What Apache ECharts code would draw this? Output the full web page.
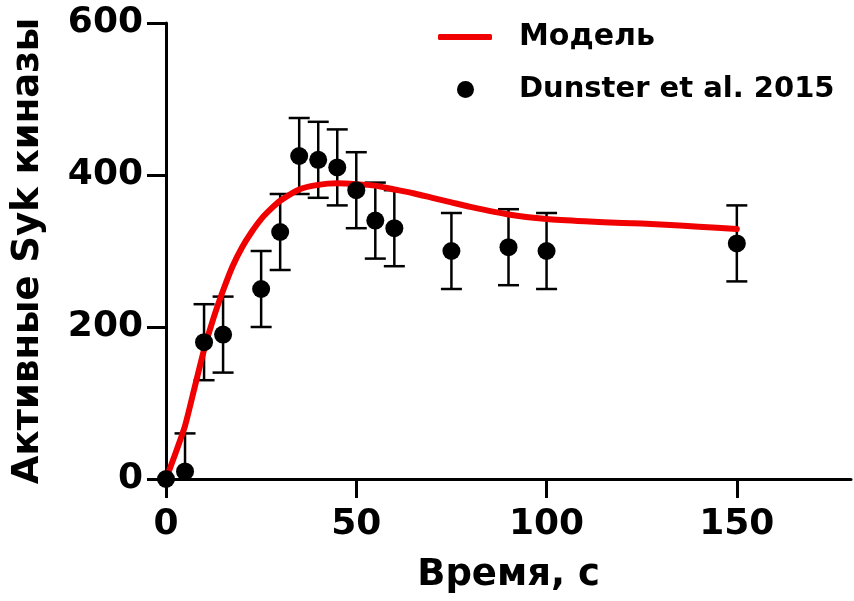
<!DOCTYPE html>
<html>
<head>
<meta charset="utf-8">
<script src="https://cdn.jsdelivr.net/npm/echarts@6/dist/echarts.min.js"></script>
<style>html,body{margin:0;padding:0;background:#fff;}#c{width:854px;height:601px;}</style>
</head>
<body>
<div id="c"></div>
<script>
// Model curve
const modelX = [0, 2.5, 5, 7.5, 10, 12.5, 15, 17.5, 20, 22.5, 25, 27.5, 30, 35, 40, 45, 50, 55, 60, 65, 70, 75, 80, 90, 100, 110, 120, 130, 140, 150];
const modelY = [0, 34, 70, 120, 170, 212, 248, 280, 305, 325, 342, 355, 366, 381, 387, 389, 388, 386, 381, 376, 370, 364, 358, 348, 342, 339, 337, 335, 332, 329];
// Experimental data (Dunster et al. 2015)
const dataX = [0, 5, 10, 15, 25, 30, 35, 40, 45, 50, 55, 60, 75, 90, 100, 150];
const dataY = [0, 10, 180, 190, 250, 325, 425, 420, 410, 380, 340, 330, 300, 305, 300, 310];
const dataErr = [0, 50, 50, 50, 50, 50, 50, 50, 50, 50, 50, 50, 50, 50, 50, 50];
const xTicks = [0, 50, 100, 150];
const yTicks = [0, 200, 400, 600];
const seriesNames = ['Модель', 'Dunster et al. 2015'];
const xTitle = 'Время, с';
const yTitle = 'Активные Syk киназы';

const FONT = 'DejaVu Sans';
const chart = echarts.init(document.getElementById('c'), null, {renderer: 'canvas'});

const modelData = modelX.map((x, i) => [x, modelY[i]]);
const pointData = dataX.map((x, i) => [x, dataY[i]]);
const errData = dataX.map((x, i) => [x, dataY[i] - dataErr[i], dataY[i] + dataErr[i]]).filter((d, i) => dataErr[i] > 0);

const axisCommon = {
  axisLine: {show: true, lineStyle: {color: '#000', width: 3}},
  axisTick: {show: true, inside: false, length: 19, lineStyle: {color: '#000', width: 3}},
  splitLine: {show: false},
  nameLocation: 'middle'
};

chart.setOption({
  backgroundColor: '#fff',
  animation: false,
  grid: {left: 166, right: 3, top: 23, bottom: 122, containLabel: false},
  legend: [
    {
      data: [{name: seriesNames[0], icon: 'roundRect'}],
      left: 438, top: 22, padding: 0,
      itemWidth: 54, itemHeight: 6,
      textStyle: {fontFamily: FONT, fontWeight: 'bold', fontSize: 30, color: '#000', padding: [0, 0, 0, 22]}
    },
    {
      data: [{name: seriesNames[1], icon: 'circle'}],
      left: 457, top: 75, padding: 0,
      itemWidth: 17, itemHeight: 17,
      textStyle: {fontFamily: FONT, fontWeight: 'bold', fontSize: 29, color: '#000', padding: [0, 0, 0, 40]}
    }
  ],
  xAxis: Object.assign({}, axisCommon, {
    type: 'value', min: 0, max: 180, interval: 50,
    name: xTitle, nameGap: 78,
    nameTextStyle: {fontFamily: FONT, fontWeight: 'bold', fontSize: 37, color: '#000'},
    axisTick: Object.assign({}, axisCommon.axisTick, {customValues: xTicks}),
    axisLabel: {customValues: xTicks, margin: 28, fontFamily: FONT, fontWeight: 'bold', fontSize: 36, color: '#000'}
  }),
  yAxis: Object.assign({}, axisCommon, {
    type: 'value', min: 0, max: 600, interval: 200,
    name: yTitle, nameGap: 119,
    nameTextStyle: {fontFamily: FONT, fontWeight: 'bold', fontSize: 37, color: '#000'},
    axisTick: Object.assign({}, axisCommon.axisTick, {customValues: yTicks}),
    axisLabel: {customValues: yTicks, margin: 23, fontFamily: FONT, fontWeight: 'bold', fontSize: 36, color: '#000'}
  }),
  series: [
    {
      name: 'errors',
      type: 'custom',
      clip: true,
      z: 2,
      data: errData,
      renderItem: function (params, api) {
        const x = api.value(0);
        const lo = api.coord([x, api.value(1)]);
        const hi = api.coord([x, api.value(2)]);
        const hw = 10.5;
        const st = {stroke: '#000', lineWidth: 2.5};
        return {
          type: 'group',
          children: [
            {type: 'line', shape: {x1: lo[0], y1: lo[1], x2: hi[0], y2: hi[1]}, style: st},
            {type: 'line', shape: {x1: hi[0] - hw, y1: hi[1], x2: hi[0] + hw, y2: hi[1]}, style: st},
            {type: 'line', shape: {x1: lo[0] - hw, y1: lo[1], x2: lo[0] + hw, y2: lo[1]}, style: st}
          ]
        };
      }
    },
    {
      name: seriesNames[0],
      type: 'line',
      data: modelData,
      smooth: 0.2,
      showSymbol: false,
      symbol: 'none',
      z: 3,
      itemStyle: {color: '#f00000'},
      lineStyle: {color: '#f00000', width: 6, cap: 'round', join: 'round'}
    },
    {
      name: seriesNames[1],
      type: 'scatter',
      data: pointData,
      symbol: 'circle',
      symbolSize: 18,
      clip: false,
      z: 4,
      itemStyle: {color: '#000', opacity: 1}
    }
  ]
});
</script>
</body>
</html>
